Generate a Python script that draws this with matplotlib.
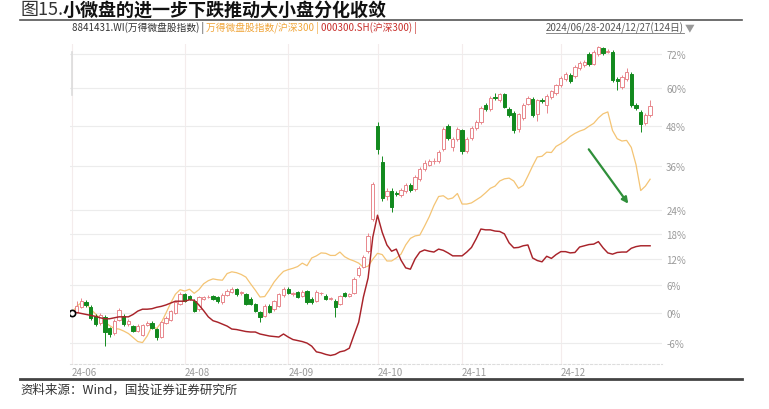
import numpy as np
import matplotlib
matplotlib.use("Agg")
import matplotlib.pyplot as plt
from matplotlib.lines import Line2D

plt.rcParams['font.family'] = ['Noto Sans CJK SC', 'DejaVu Sans']

# trading days 2024/06/28 - 2024/12/27 (124 days), first day of each month shown
month_idx = [0, 24, 46, 65, 83, 104]
month_labels = ['24-06', '24-08', '24-09', '24-10', '24-11', '24-12']

# 8841431.WI candles, cumulative % vs 2024/06/28
wd_open = [0.0, 0.2, 1.3, 2.3, 1.3, -0.6, -2.1, -0.8, -3.0, -4.0,
           -1.4, -0.6, -2.3, -2.7, -3.6, -4.4, -2.4, -2.0, -3.3, -4.8,
           -2.0, -1.4, 0.0, 2.0, 4.0, 3.6, 2.6, 0.8, 3.0, 3.4,
           3.6, 3.3, 2.3, 3.9, 4.5, 5.1, 4.2, 4.0, 3.0, 1.9,
           0.2, -0.6, 1.5, 0.8, 1.5, 3.8, 5.2, 4.0, 4.5, 3.6,
           4.7, 3.0, 2.6, 4.2, 3.7, 3.0, 2.6, 2.0, 4.2, 3.6,
           4.3, 8.2, 10.2, 13.8, 21.7, 47.9, 37.2, 27.8, 29.0, 28.6,
           28.0, 29.2, 30.6, 29.6, 32.3, 35.2, 36.4, 37.3, 37.5, 41.0,
           47.8, 41.5, 44.0, 46.5, 40.4, 44.2, 47.2, 49.0, 54.5, 53.2,
           57.0, 56.2, 58.0, 53.2, 52.0, 46.9, 50.5, 55.0, 56.5, 51.7,
           56.2, 54.5, 57.0, 58.5, 61.0, 63.0, 64.5, 64.2, 67.0, 68.0,
           71.9, 68.5, 71.9, 74.0, 72.8, 72.6, 63.1, 60.4, 63.1, 64.9,
           54.5, 52.2, 48.7, 51.3]
wd_close = [0.2, 1.5, 2.6, 1.6, -1.0, -2.3, -0.4, -3.9, -4.3, -1.6,
            0.6, -2.3, -1.6, -3.6, -2.6, -2.5, -2.0, -3.0, -4.8, -1.9,
            -1.0, 0.4, 2.3, 4.0, 2.6, 3.0, 0.5, 3.4, 3.4, 3.5,
            3.0, 2.5, 3.9, 4.8, 5.2, 4.0, 4.4, 1.9, 1.9, 0.5,
            -0.8, 1.5, 0.3, 2.5, 4.0, 5.2, 4.3, 4.2, 3.4, 4.6,
            2.3, 2.3, 4.6, 4.3, 3.0, 3.2, 1.3, 3.6, 3.7, 4.0,
            7.4, 9.8, 12.4, 17.5, 31.0, 40.9, 27.2, 29.0, 24.8, 28.3,
            29.3, 30.6, 29.4, 33.0, 35.2, 37.0, 37.5, 37.5, 40.0, 46.9,
            44.2, 43.9, 46.9, 40.4, 44.0, 47.2, 49.0, 53.5, 53.2, 56.8,
            56.8, 58.0, 54.0, 51.3, 46.5, 51.5, 54.5, 56.7, 51.3, 56.0,
            55.7, 57.4, 59.0, 61.0, 63.5, 64.9, 62.5, 67.3, 68.7, 69.2,
            68.3, 72.6, 74.4, 72.2, 73.0, 62.7, 62.4, 63.8, 65.6, 54.5,
            53.6, 48.5, 51.3, 54.3]
wd_high = [0.4, 2.5, 3.2, 2.8, 1.6, -0.2, 0.0, -0.5, -2.8, -1.3,
           1.0, -0.3, -1.2, -2.4, -2.3, -2.2, -1.6, -1.7, -3.0, -1.6,
           -0.7, 0.7, 2.6, 4.5, 4.3, 3.9, 2.9, 3.7, 3.7, 3.8,
           3.9, 3.6, 4.2, 5.1, 5.5, 5.4, 4.7, 4.3, 3.3, 2.2,
           0.5, 1.8, 1.8, 2.8, 4.3, 5.6, 5.5, 4.5, 4.8, 4.9,
           5.0, 3.3, 4.9, 4.6, 4.0, 3.5, 2.9, 3.9, 4.5, 4.3,
           7.8, 10.3, 13.0, 18.2, 31.5, 49.0, 39.0, 30.0, 29.8, 29.2,
           29.9, 31.2, 31.2, 33.6, 35.8, 37.6, 38.1, 38.4, 40.6, 47.5,
           48.6, 44.5, 47.5, 47.1, 44.6, 47.8, 49.6, 54.1, 55.1, 57.4,
           58.5, 58.6, 58.6, 53.8, 52.6, 52.1, 55.1, 57.3, 57.1, 56.6,
           56.8, 58.0, 59.6, 61.6, 64.1, 65.5, 65.1, 67.9, 69.3, 69.8,
           72.5, 73.2, 75.0, 74.6, 73.6, 73.2, 63.7, 64.4, 66.8, 65.5,
           55.1, 52.8, 51.9, 56.0]
wd_low = [-0.2, 0.0, 1.0, 1.3, -1.4, -2.6, -2.5, -6.7, -4.8, -4.4,
          -1.7, -2.6, -2.6, -3.9, -3.9, -4.7, -2.7, -3.3, -5.5, -5.1,
          -2.3, -1.7, -0.3, 1.7, 2.3, 2.7, 0.2, 0.5, 2.7, 3.1,
          2.7, 2.2, 2.0, 3.6, 4.2, 3.7, 3.9, 1.6, 1.6, 0.2,
          -1.9, -0.9, 0.0, 0.5, 1.2, 3.5, 4.0, 3.7, 3.1, 3.3,
          2.0, 2.0, 2.3, 3.9, 2.7, 2.7, -0.8, 1.7, 3.4, 3.3,
          4.0, 7.8, 9.8, 13.3, 21.2, 39.5, 26.5, 26.8, 23.5, 27.6,
          27.4, 28.6, 28.8, 29.0, 31.8, 34.6, 35.9, 36.6, 37.0, 40.4,
          43.6, 40.2, 43.4, 39.5, 39.8, 43.6, 46.6, 48.4, 52.6, 52.6,
          56.0, 55.6, 53.4, 50.7, 45.8, 45.9, 49.9, 54.4, 50.7, 49.5,
          55.1, 52.0, 56.4, 57.9, 60.4, 62.4, 61.9, 63.6, 66.4, 67.4,
          67.7, 67.9, 71.3, 71.6, 72.2, 62.1, 59.5, 59.8, 62.5, 53.9,
          53.0, 46.0, 48.1, 50.7]

# 万得微盘股指数/沪深300, cumulative %
ratio = [0.0, 1.4, 2.2, 2.0, 0.8, -0.2, -1.1, -1.9, -2.6, -3.2,
         -3.3, -3.7, -4.2, -5.0, -5.8, -6.0, -4.7, -2.7, -3.2, -2.0,
         0.0, 2.1, 4.0, 5.0, 4.7, 5.1, 4.2, 5.0, 6.3, 7.0,
         7.4, 7.2, 7.1, 8.6, 9.0, 8.8, 8.4, 7.8, 6.3, 4.9,
         3.4, 3.5, 5.0, 6.7, 8.0, 9.1, 9.5, 9.8, 10.2, 11.0,
         10.4, 12.2, 12.7, 13.4, 13.3, 12.8, 12.8, 13.6, 12.5, 11.9,
         11.5, 11.0, 10.0, 10.3, 11.9, 13.3, 13.0, 11.5, 11.5, 12.2,
         13.1, 15.3, 16.9, 17.5, 17.7, 19.9, 22.3, 25.2, 27.6, 27.8,
         26.9, 27.2, 28.4, 25.6, 25.6, 25.9, 26.7, 27.5, 28.6, 29.8,
         30.4, 31.8, 32.4, 32.6, 31.8, 29.8, 30.6, 33.2, 36.0, 38.6,
         38.8, 40.0, 39.9, 41.7, 42.5, 43.4, 44.7, 45.6, 46.3, 46.8,
         47.8, 48.7, 50.4, 51.7, 52.3, 46.5, 44.0, 43.3, 43.5, 41.4,
         36.4, 29.2, 30.4, 32.3]

# 000300.SH, cumulative %
hs300 = [0.0, 0.1, -0.1, -0.3, -0.5, -0.7, -1.0, -1.2, -1.2, -1.0,
         -0.8, -0.8, -0.8, -0.3, 0.4, 0.8, 0.8, 0.9, 1.2, 1.4,
         1.7, 2.1, 2.5, 2.5, 2.5, 2.8, 2.7, 1.7, 0.5, -0.8,
         -1.6, -1.9, -2.3, -2.7, -3.3, -3.4, -3.6, -3.8, -3.9, -3.9,
         -4.3, -4.5, -4.7, -4.8, -4.9, -4.3, -4.9, -5.4, -5.6, -5.8,
         -6.1, -6.7, -7.8, -8.0, -8.3, -8.5, -8.3, -7.8, -7.6, -7.1,
         -4.5, -1.9, 3.4, 7.6, 17.2, 22.7, 18.4, 15.3, 13.8, 14.3,
         11.7, 9.9, 9.6, 12.0, 13.6, 14.1, 13.8, 13.6, 14.3, 14.0,
         13.4, 12.7, 12.7, 12.7, 13.6, 14.7, 16.8, 19.2, 19.0, 19.0,
         18.7, 18.6, 18.0, 15.8, 14.6, 14.7, 15.1, 15.3, 12.2, 11.6,
         11.3, 12.6, 12.1, 13.0, 13.7, 13.7, 13.4, 13.5, 14.8, 15.1,
         15.4, 15.5, 16.1, 14.6, 13.4, 13.1, 13.5, 13.6, 13.6, 14.5,
         14.9, 15.1, 15.1, 15.1]

ytick_pct = [-6, 0, 6, 12, 18, 24, 36, 48, 60, 72]

# arrow annotation (day index, %)
arrow_from = (109.6, 41.5)
arrow_to = (118.7, 25.1)

up_col = '#e8878c'
down_col = '#128a1e'
red_col = '#a8232a'
orange_col = '#f4c474'
grey_txt = '#9a9a9a'

W, H = 769, 410
fig = plt.figure(figsize=(W / 100, H / 100), dpi=100)
ax = fig.add_axes([70 / W, 1 - 365 / H, 592 / W, 320 / H])

x = np.arange(len(wd_close))
o = 1 + np.array(wd_open) / 100
c = 1 + np.array(wd_close) / 100
hi = 1 + np.array(wd_high) / 100
lo = 1 + np.array(wd_low) / 100
up = c >= o
dn = ~up

ax.plot(x, 1 + np.array(ratio) / 100, color=orange_col, lw=0.9, zorder=2)

ax.vlines(x[up], lo[up], hi[up], color=up_col, lw=0.7, zorder=3)
ax.vlines(x[dn], lo[dn], hi[dn], color=down_col, lw=0.7, zorder=3)
ax.bar(x[up], (c - o)[up], bottom=o[up], width=0.72, facecolor='white',
       edgecolor=up_col, lw=0.7, zorder=4)
ax.bar(x[dn], (o - c)[dn], bottom=c[dn], width=0.72, facecolor=down_col,
       edgecolor=down_col, lw=0.7, zorder=4)

ax.plot(x, 1 + np.array(hs300) / 100, color=red_col, lw=1.05, zorder=5)
ax.plot(x[0], 1 + hs300[0] / 100, 'o', mfc='white', mec='black', ms=4.5, mew=1.2, zorder=6)

ax.annotate('', xy=(arrow_to[0], 1 + arrow_to[1] / 100),
            xytext=(arrow_from[0], 1 + arrow_from[1] / 100),
            arrowprops=dict(arrowstyle='-|>', color='#2f8f3a', lw=1.6,
                            mutation_scale=9), zorder=7)

ax.set_yscale('log')
ax.set_xlim(-2 / 4.7, 590 / 4.7)
ax.set_ylim(np.exp(-51 / 478), np.exp(269 / 478))
ax.yaxis.set_minor_locator(plt.NullLocator())
ax.set_yticks([1 + v / 100 for v in ytick_pct])
ax.set_yticklabels([f'{v}%' for v in ytick_pct])
ax.yaxis.tick_right()
ax.tick_params(axis='y', length=0, pad=3, labelsize=7, labelcolor=grey_txt)
ax.set_xticks(month_idx)
ax.set_xticklabels(month_labels, ha='left')
ax.tick_params(axis='x', length=0, pad=2, labelsize=7, labelcolor=grey_txt)
for lab in ax.get_xticklabels():
    lab.set_x(lab.get_position()[0])
ax.grid(axis='y', color='#ececec', lw=0.8)
ax.grid(axis='x', color='#f4ecec', lw=0.8)
ax.set_axisbelow(True)
for s in ['top', 'left', 'right']:
    ax.spines[s].set_visible(False)
ax.spines['bottom'].set_color('#dddddd')
ax.spines['bottom'].set_linestyle((0, (2, 2)))
ax.spines['bottom'].set_linewidth(0.8)

renderer = fig.canvas.get_renderer()


def text_row(x0, y0, parts, size, weight='normal'):
    xx = x0
    for s, col in parts:
        t = fig.text(xx / W, 1 - y0 / H, s, color=col, fontsize=size,
                     va='center', ha='left', fontweight=weight)
        bb = t.get_window_extent(renderer=renderer)
        xx = bb.x1
    return xx


# title
xt = text_row(20, 10, [('图15.', '#333333')], 13)
text_row(xt, 10, [('小微盘的进一步下跌推动大小盘分化收敛', '#111111')], 13, 'bold')
fig.add_artist(Line2D([20 / W, 742 / W], [1 - 21 / H, 1 - 21 / H], color='#555555', lw=1.2))

# legend row
text_row(72, 28, [('8841431.WI(万得微盘股指数) | ', '#333333'),
                  ('万得微盘股指数/沪深300 | ', '#f0a63c'),
                  ('000300.SH(沪深300) |', '#c8302c')], 7)
xd = text_row(546, 28, [('2024/06/28-2024/12/27(124日)', '#555555')], 7)
fig.add_artist(Line2D([546 / W, xd / W], [1 - 34 / H, 1 - 34 / H], color='#777777', lw=0.6))
fig.text((xd + 1) / W, 1 - 28 / H, '▼', color='#999999', fontsize=7, va='center', ha='left')

# left scroll mark
fig.add_artist(Line2D([72 / W, 72 / W], [1 - 53 / H, 1 - 96 / H], color='#dcdcdc', lw=1.2))

# footer
fig.add_artist(Line2D([20 / W, 742 / W], [1 - 380 / H, 1 - 380 / H], color='#444444', lw=2))
fig.text(20 / W, 1 - 390 / H, '资料来源：Wind，国投证券证券研究所', color='#333333',
         fontsize=9, va='center', ha='left', style='italic')

fig.savefig('out.png', dpi=100)
